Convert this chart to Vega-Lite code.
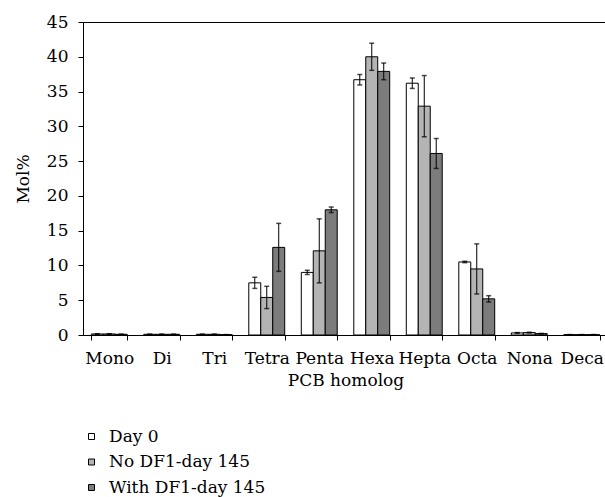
{
  "$schema": "https://vega.github.io/schema/vega-lite/v6.json",
  "width": 525,
  "height": 313,
  "autosize": {"type": "none"},
  "padding": {"left": 83, "top": 22, "right": 0, "bottom": 162},
  "background": "white",
  "config": {
    "view": {"stroke": "black", "strokeWidth": 1},
    "font": "DejaVu Serif",
    "axis": {
      "labelFont": "DejaVu Serif",
      "labelFontSize": 17,
      "labelColor": "black",
      "titleFont": "DejaVu Serif",
      "titleFontSize": 17,
      "titleFontWeight": "normal",
      "titleColor": "black",
      "domainColor": "black",
      "tickColor": "black",
      "tickSize": 5,
      "labelPadding": 10,
      "labelOverlap": false,
      "labelFlush": false,
      "grid": false
    },
    "legend": {
      "labelFont": "DejaVu Serif",
      "labelFontSize": 17,
      "labelColor": "black"
    }
  },
  "data": {
    "values": [
      {"homolog": "Mono", "series": "Day 0", "value": 0.15, "err": 0.03},
      {"homolog": "Di", "series": "Day 0", "value": 0.1, "err": 0.02},
      {"homolog": "Tri", "series": "Day 0", "value": 0.1, "err": 0.02},
      {"homolog": "Tetra", "series": "Day 0", "value": 7.5, "err": 0.8},
      {"homolog": "Penta", "series": "Day 0", "value": 9.0, "err": 0.3},
      {"homolog": "Hexa", "series": "Day 0", "value": 36.7, "err": 0.75},
      {"homolog": "Hepta", "series": "Day 0", "value": 36.2, "err": 0.75},
      {"homolog": "Octa", "series": "Day 0", "value": 10.5, "err": 0.1},
      {"homolog": "Nona", "series": "Day 0", "value": 0.3, "err": 0.05},
      {"homolog": "Deca", "series": "Day 0", "value": 0.05, "err": 0.01},
      {"homolog": "Mono", "series": "No DF1-day 145", "value": 0.15, "err": 0.03},
      {"homolog": "Di", "series": "No DF1-day 145", "value": 0.1, "err": 0.02},
      {"homolog": "Tri", "series": "No DF1-day 145", "value": 0.1, "err": 0.02},
      {"homolog": "Tetra", "series": "No DF1-day 145", "value": 5.4, "err": 1.6},
      {"homolog": "Penta", "series": "No DF1-day 145", "value": 12.1, "err": 4.6},
      {"homolog": "Hexa", "series": "No DF1-day 145", "value": 40.0, "err": 1.95},
      {"homolog": "Hepta", "series": "No DF1-day 145", "value": 32.9, "err": 4.4},
      {"homolog": "Octa", "series": "No DF1-day 145", "value": 9.5, "err": 3.6},
      {"homolog": "Nona", "series": "No DF1-day 145", "value": 0.35, "err": 0.05},
      {"homolog": "Deca", "series": "No DF1-day 145", "value": 0.05, "err": 0.01},
      {"homolog": "Mono", "series": "With DF1-day 145", "value": 0.1, "err": 0.02},
      {"homolog": "Di", "series": "With DF1-day 145", "value": 0.1, "err": 0.02},
      {"homolog": "Tri", "series": "With DF1-day 145", "value": 0.05, "err": 0.01},
      {"homolog": "Tetra", "series": "With DF1-day 145", "value": 12.6, "err": 3.45},
      {"homolog": "Penta", "series": "With DF1-day 145", "value": 18.0, "err": 0.4},
      {"homolog": "Hexa", "series": "With DF1-day 145", "value": 37.9, "err": 1.2},
      {"homolog": "Hepta", "series": "With DF1-day 145", "value": 26.1, "err": 2.15},
      {"homolog": "Octa", "series": "With DF1-day 145", "value": 5.2, "err": 0.45},
      {"homolog": "Nona", "series": "With DF1-day 145", "value": 0.2, "err": 0.03},
      {"homolog": "Deca", "series": "With DF1-day 145", "value": 0.05, "err": 0.01}
    ]
  },
  "encoding": {
    "x": {
      "field": "homolog",
      "type": "nominal",
      "sort": ["Mono", "Di", "Tri", "Tetra", "Penta", "Hexa", "Hepta", "Octa", "Nona", "Deca"],
      "scale": {"paddingInner": 0.316, "paddingOuter": 0.158},
      "axis": {"title": "PCB homolog", "labelAngle": 0, "tickBand": "extent", "titlePadding": 6}
    },
    "xOffset": {
      "field": "series",
      "type": "nominal",
      "sort": ["Day 0", "No DF1-day 145", "With DF1-day 145"],
      "scale": {"paddingInner": 0, "paddingOuter": 0}
    }
  },
  "layer": [
    {
      "mark": {"type": "bar", "stroke": "black", "strokeWidth": 1},
      "encoding": {
        "y": {
          "field": "value",
          "type": "quantitative",
          "scale": {"domain": [0, 45], "nice": false},
          "axis": {"title": "Mol%", "values": [0, 5, 10, 15, 20, 25, 30, 35, 40, 45], "titlePadding": 14}
        },
        "fill": {
          "field": "series",
          "type": "nominal",
          "sort": ["Day 0", "No DF1-day 145", "With DF1-day 145"],
          "scale": {"range": ["#ffffff", "#b4b4b4", "#7c7c7c"]},
          "legend": {
            "title": null,
            "orient": "none",
            "legendX": 0,
            "legendY": 406,
            "padding": 0,
            "symbolType": "square",
            "symbolSize": 36,
            "symbolStrokeColor": "black",
            "symbolStrokeWidth": 1,
            "labelOffset": 9,
            "rowPadding": 7.5
          }
        }
      }
    },
    {
      "mark": {"type": "rule", "color": "black", "strokeWidth": 1},
      "transform": [
        {"calculate": "datum.value - datum.err", "as": "lo"},
        {"calculate": "datum.value + datum.err", "as": "hi"}
      ],
      "encoding": {
        "y": {
          "field": "lo",
          "type": "quantitative",
          "scale": {"domain": [0, 45], "nice": false},
          "axis": {"title": "Mol%", "values": [0, 5, 10, 15, 20, 25, 30, 35, 40, 45], "titlePadding": 14}
        },
        "y2": {"field": "hi"}
      }
    },
    {
      "mark": {"type": "tick", "color": "black", "size": 5, "thickness": 1.5, "orient": "horizontal"},
      "transform": [{"calculate": "datum.value + datum.err", "as": "hi"}],
      "encoding": {
        "y": {
          "field": "hi",
          "type": "quantitative",
          "scale": {"domain": [0, 45], "nice": false},
          "axis": {"title": "Mol%", "values": [0, 5, 10, 15, 20, 25, 30, 35, 40, 45], "titlePadding": 14}
        }
      }
    },
    {
      "mark": {"type": "tick", "color": "black", "size": 5, "thickness": 1.5, "orient": "horizontal"},
      "transform": [{"calculate": "datum.value - datum.err", "as": "lo"}],
      "encoding": {
        "y": {
          "field": "lo",
          "type": "quantitative",
          "scale": {"domain": [0, 45], "nice": false},
          "axis": {"title": "Mol%", "values": [0, 5, 10, 15, 20, 25, 30, 35, 40, 45], "titlePadding": 14}
        }
      }
    }
  ]
}
